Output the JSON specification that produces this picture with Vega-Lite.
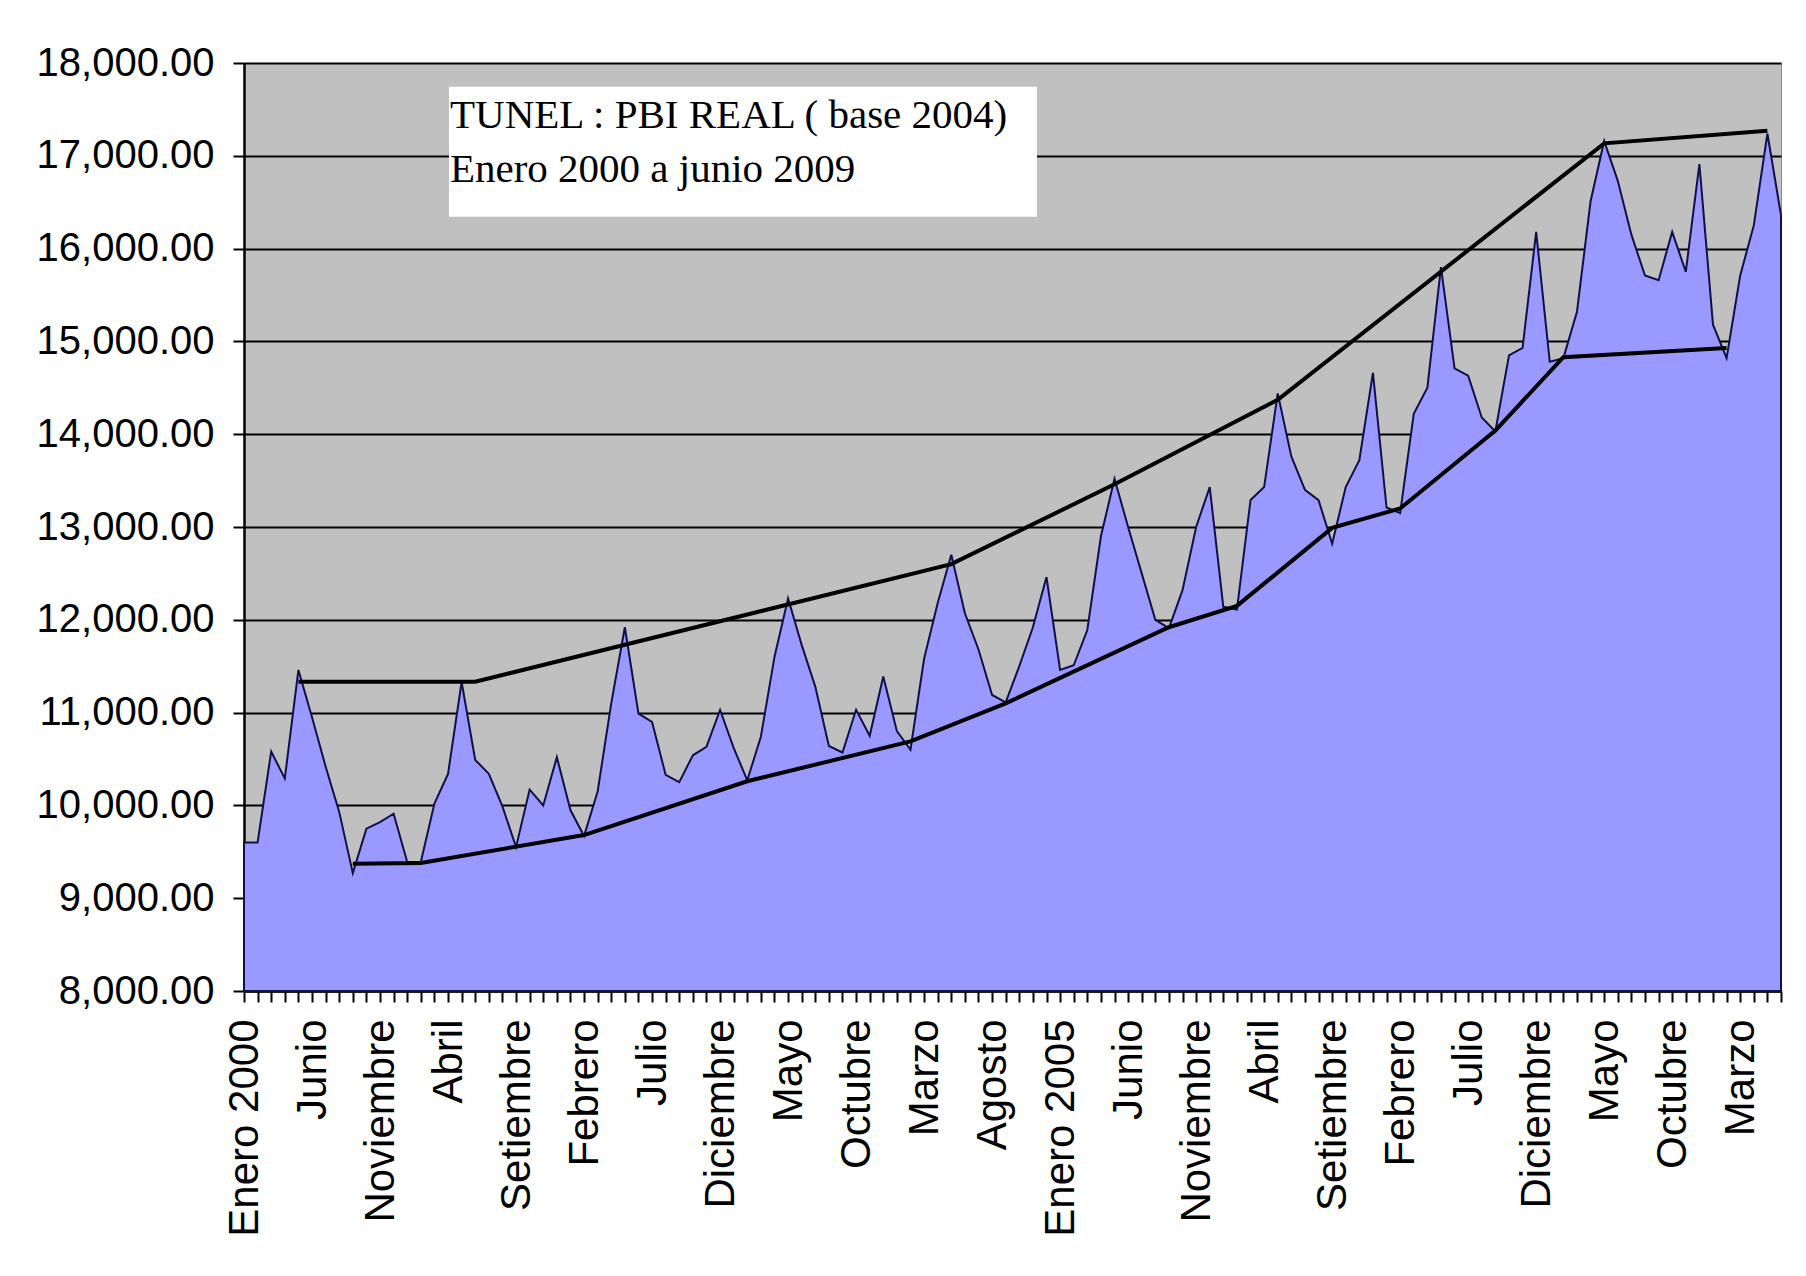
{
  "$schema": "https://vega.github.io/schema/vega-lite/v6.json",
  "width": 1537,
  "height": 928,
  "autosize": {"type": "none"},
  "padding": {"left": 244, "top": 63, "right": 25, "bottom": 285},
  "background": "white",
  "config": {
    "view": {"fill": "#C0C0C0", "stroke": "#8c8c8c", "strokeWidth": 1},
    "axis": {"labelFont": "Liberation Sans", "labelFontSize": 40, "labelColor": "#000000", "domainColor": "#000000", "tickColor": "#000000", "title": null, "labelLimit": 0}
  },
  "datasets": {
    "pbi": [
      {"idx": 0, "valor": 9600}, {"idx": 1, "valor": 9600}, {"idx": 2, "valor": 10580}, {"idx": 3, "valor": 10290},
      {"idx": 4, "valor": 11460}, {"idx": 5, "valor": 10950}, {"idx": 6, "valor": 10420}, {"idx": 7, "valor": 9930},
      {"idx": 8, "valor": 9270}, {"idx": 9, "valor": 9750}, {"idx": 10, "valor": 9820}, {"idx": 11, "valor": 9910},
      {"idx": 12, "valor": 9390}, {"idx": 13, "valor": 9390}, {"idx": 14, "valor": 10020}, {"idx": 15, "valor": 10340},
      {"idx": 16, "valor": 11330}, {"idx": 17, "valor": 10490}, {"idx": 18, "valor": 10340}, {"idx": 19, "valor": 9990},
      {"idx": 20, "valor": 9550}, {"idx": 21, "valor": 10170}, {"idx": 22, "valor": 10000}, {"idx": 23, "valor": 10520},
      {"idx": 24, "valor": 9950}, {"idx": 25, "valor": 9670}, {"idx": 26, "valor": 10150}, {"idx": 27, "valor": 11100},
      {"idx": 28, "valor": 11920}, {"idx": 29, "valor": 10990}, {"idx": 30, "valor": 10900}, {"idx": 31, "valor": 10330},
      {"idx": 32, "valor": 10250}, {"idx": 33, "valor": 10540}, {"idx": 34, "valor": 10630}, {"idx": 35, "valor": 11030},
      {"idx": 36, "valor": 10620}, {"idx": 37, "valor": 10270}, {"idx": 38, "valor": 10740}, {"idx": 39, "valor": 11600},
      {"idx": 40, "valor": 12230}, {"idx": 41, "valor": 11730}, {"idx": 42, "valor": 11280}, {"idx": 43, "valor": 10640},
      {"idx": 44, "valor": 10570}, {"idx": 45, "valor": 11030}, {"idx": 46, "valor": 10750}, {"idx": 47, "valor": 11390},
      {"idx": 48, "valor": 10800}, {"idx": 49, "valor": 10600}, {"idx": 50, "valor": 11580}, {"idx": 51, "valor": 12180},
      {"idx": 52, "valor": 12700}, {"idx": 53, "valor": 12070}, {"idx": 54, "valor": 11680}, {"idx": 55, "valor": 11190},
      {"idx": 56, "valor": 11110}, {"idx": 57, "valor": 11500}, {"idx": 58, "valor": 11920}, {"idx": 59, "valor": 12460},
      {"idx": 60, "valor": 11460}, {"idx": 61, "valor": 11510}, {"idx": 62, "valor": 11890}, {"idx": 63, "valor": 12900},
      {"idx": 64, "valor": 13520}, {"idx": 65, "valor": 13000}, {"idx": 66, "valor": 12500}, {"idx": 67, "valor": 12000},
      {"idx": 68, "valor": 11910}, {"idx": 69, "valor": 12320}, {"idx": 70, "valor": 13000}, {"idx": 71, "valor": 13430},
      {"idx": 72, "valor": 12140}, {"idx": 73, "valor": 12110}, {"idx": 74, "valor": 13290}, {"idx": 75, "valor": 13430},
      {"idx": 76, "valor": 14440}, {"idx": 77, "valor": 13760}, {"idx": 78, "valor": 13400}, {"idx": 79, "valor": 13290},
      {"idx": 80, "valor": 12820}, {"idx": 81, "valor": 13430}, {"idx": 82, "valor": 13720}, {"idx": 83, "valor": 14660},
      {"idx": 84, "valor": 13210}, {"idx": 85, "valor": 13150}, {"idx": 86, "valor": 14220}, {"idx": 87, "valor": 14500},
      {"idx": 88, "valor": 15800}, {"idx": 89, "valor": 14710}, {"idx": 90, "valor": 14630}, {"idx": 91, "valor": 14180},
      {"idx": 92, "valor": 14030}, {"idx": 93, "valor": 14850}, {"idx": 94, "valor": 14930}, {"idx": 95, "valor": 16180},
      {"idx": 96, "valor": 14780}, {"idx": 97, "valor": 14820}, {"idx": 98, "valor": 15320}, {"idx": 99, "valor": 16510},
      {"idx": 100, "valor": 17160}, {"idx": 101, "valor": 16730}, {"idx": 102, "valor": 16150}, {"idx": 103, "valor": 15710},
      {"idx": 104, "valor": 15660}, {"idx": 105, "valor": 16180}, {"idx": 106, "valor": 15750}, {"idx": 107, "valor": 16910},
      {"idx": 108, "valor": 15180}, {"idx": 109, "valor": 14820}, {"idx": 110, "valor": 15710}, {"idx": 111, "valor": 16250},
      {"idx": 112, "valor": 17240}, {"idx": 113, "valor": 16360}
    ],
    "tunel": [
      {"serie": "superior", "idx": 4, "valor": 11333},
      {"serie": "superior", "idx": 17, "valor": 11333},
      {"serie": "superior", "idx": 52, "valor": 12600},
      {"serie": "superior", "idx": 64, "valor": 13460},
      {"serie": "superior", "idx": 76, "valor": 14370},
      {"serie": "superior", "idx": 100, "valor": 17134},
      {"serie": "superior", "idx": 112, "valor": 17270},
      {"serie": "inferior", "idx": 8, "valor": 9370},
      {"serie": "inferior", "idx": 13, "valor": 9380},
      {"serie": "inferior", "idx": 25, "valor": 9680},
      {"serie": "inferior", "idx": 37, "valor": 10260},
      {"serie": "inferior", "idx": 49, "valor": 10690},
      {"serie": "inferior", "idx": 56, "valor": 11100},
      {"serie": "inferior", "idx": 68, "valor": 11920},
      {"serie": "inferior", "idx": 73, "valor": 12150},
      {"serie": "inferior", "idx": 80, "valor": 12990},
      {"serie": "inferior", "idx": 85, "valor": 13200},
      {"serie": "inferior", "idx": 92, "valor": 14040},
      {"serie": "inferior", "idx": 97, "valor": 14830},
      {"serie": "inferior", "idx": 109, "valor": 14930}
    ]
  },
  "layer": [
    {
      "data": {"name": "pbi"},
      "mark": {"type": "area", "fill": "#9999FF", "stroke": "#10104a", "strokeWidth": 2, "strokeJoin": "miter"},
      "encoding": {
        "x": {
          "field": "idx", "type": "quantitative",
          "scale": {"domain": [0, 113], "nice": false, "zero": false},
          "axis": {
            "values": [0,1,2,3,4,5,6,7,8,9,10,11,12,13,14,15,16,17,18,19,20,21,22,23,24,25,26,27,28,29,30,31,32,33,34,35,36,37,38,39,40,41,42,43,44,45,46,47,48,49,50,51,52,53,54,55,56,57,58,59,60,61,62,63,64,65,66,67,68,69,70,71,72,73,74,75,76,77,78,79,80,81,82,83,84,85,86,87,88,89,90,91,92,93,94,95,96,97,98,99,100,101,102,103,104,105,106,107,108,109,110,111,112,113],
            "tickCount": 500,
            "labelExpr": "datum.value % 5 === 0 ? ['Enero 2000','Junio','Noviembre','Abril','Setiembre','Febrero','Julio','Diciembre','Mayo','Octubre','Marzo','Agosto','Enero 2005','Junio','Noviembre','Abril','Setiembre','Febrero','Julio','Diciembre','Mayo','Octubre','Marzo'][datum.value / 5] : ''",
            "labelAngle": -90, "labelAlign": "right", "labelBaseline": "middle",
            "labelFontSize": 42,
            "labelOverlap": false, "labelBound": false, "labelFlush": false,
            "labelPadding": 17, "tickSize": 11, "tickWidth": 2, "domainWidth": 2.5,
            "grid": false
          }
        },
        "y": {
          "field": "valor", "type": "quantitative",
          "scale": {"domain": [8000, 18000], "nice": false, "zero": false},
          "axis": {
            "values": [8000, 9000, 10000, 11000, 12000, 13000, 14000, 15000, 16000, 17000, 18000],
            "tickCount": 20,
            "format": ",.2f",
            "grid": true, "gridColor": "#000000", "gridWidth": 2, "gridOpacity": 1,
            "tickSize": 11, "tickWidth": 2, "domainWidth": 2.5, "labelPadding": 19
          }
        },
        "y2": {"datum": 8000}
      }
    },
    {
      "data": {"name": "tunel"},
      "mark": {"type": "line", "color": "#000000", "strokeWidth": 4},
      "encoding": {
        "x": {"field": "idx", "type": "quantitative"},
        "y": {"field": "valor", "type": "quantitative"},
        "detail": {"field": "serie"}
      }
    },
    {
      "data": {"values": [{}]},
      "mark": {"type": "rect", "fill": "#FFFFFF"},
      "encoding": {
        "x": {"datum": 15.07, "type": "quantitative"},
        "x2": {"datum": 58.3},
        "y": {"datum": 17745, "type": "quantitative"},
        "y2": {"datum": 16344}
      }
    },
    {
      "data": {"values": [{}]},
      "mark": {"type": "text", "text": "TUNEL : PBI REAL ( base 2004)", "font": "Liberation Serif", "fontSize": 41, "align": "left", "baseline": "alphabetic", "dx": 1, "color": "#000000"},
      "encoding": {
        "x": {"datum": 15.07, "type": "quantitative"},
        "y": {"datum": 17296, "type": "quantitative"}
      }
    },
    {
      "data": {"values": [{}]},
      "mark": {"type": "text", "text": "Enero 2000 a junio 2009", "font": "Liberation Serif", "fontSize": 41, "align": "left", "baseline": "alphabetic", "dx": 1, "color": "#000000"},
      "encoding": {
        "x": {"datum": 15.07, "type": "quantitative"},
        "y": {"datum": 16721, "type": "quantitative"}
      }
    }
  ]
}
